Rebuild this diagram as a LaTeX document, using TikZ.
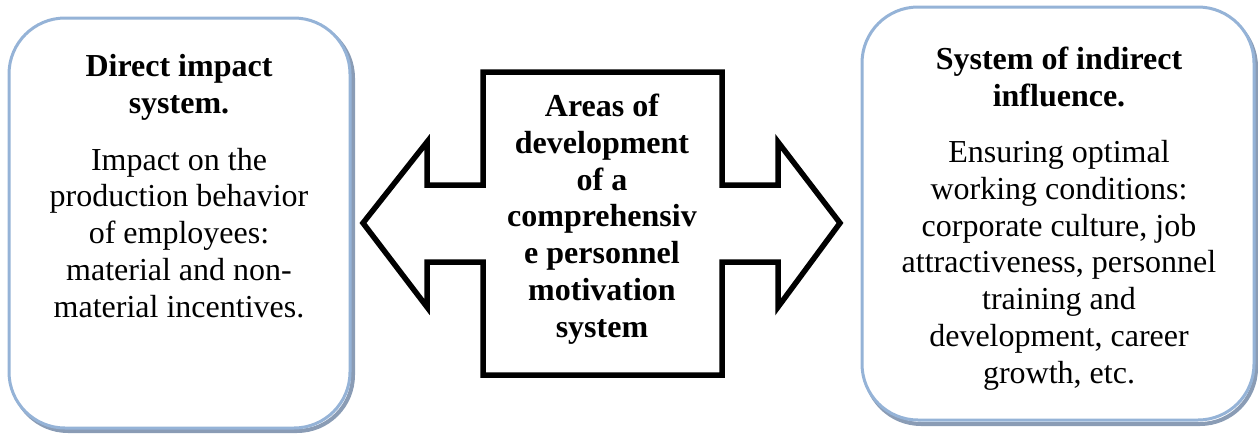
\documentclass[tikz,border=0pt]{standalone}
\usepackage{fontspec}
\setmainfont{Liberation Serif}
\begin{document}
\begin{tikzpicture}[x=1pt,y=-1pt,
  boxline/.style={draw=boxblue,line width=3pt,fill=white,rounded corners=56pt},
  boxshadow/.style={draw=shadowgray,line width=4pt,rounded corners=56pt},
  txt/.style={align=center,anchor=base,inner sep=0pt,font=\fontsize{32}{36.7}\selectfont},
  btxt/.style={txt,font=\fontsize{32}{36.7}\selectfont\bfseries},
  bigarrow/.style={draw=black,line width=5.5pt,miter limit=10,fill=white}]
\definecolor{boxblue}{HTML}{95B3D7}
\definecolor{shadowgray}{HTML}{8A9CB5}
\useasboundingbox (0,0) rectangle (1258,437);
% left box
\draw[boxshadow] (12,22) rectangle (353,431);
\draw[boxline] (9,18) rectangle (350,428);
% right box
\draw[boxshadow] (865,11) rectangle (1256,424);
\draw[boxline] (862,7) rectangle (1254,420);
% central double arrow
\coordinate (tipL) at (363,223);
\coordinate (tipR) at (840,223);
\draw[bigarrow] (483,72) -- (722,72) -- (722,185) -- (778,185) -- (778,142) -- (tipR)
  -- (778,307) -- (778,262) -- (722,262) -- (722,375) -- (483,375) -- (483,262)
  -- (427,262) -- (427,307) -- (tipL) -- (427,142) -- (427,185) -- (483,185) -- cycle;
% texts (anchor base = baseline of the last line)
\node[btxt] (ltitle) at (179,113) {Direct impact\\system.};
\node[txt] (lbody) at (179,317) {Impact on the\\production behavior\\of employees:\\material and non-\\material incentives.};
\node[btxt] (ctext) at (602,337) {Areas of\\development\\of a\\comprehensiv\\e personnel\\motivation\\system};
\node[btxt] (rtitle) at (1059,106) {System of indirect\\influence.};
\node[txt] (rbody) at (1059,383) {Ensuring optimal\\working conditions:\\corporate culture, job\\attractiveness, personnel\\training and\\development, career\\growth, etc.};
\end{tikzpicture}
\end{document}
